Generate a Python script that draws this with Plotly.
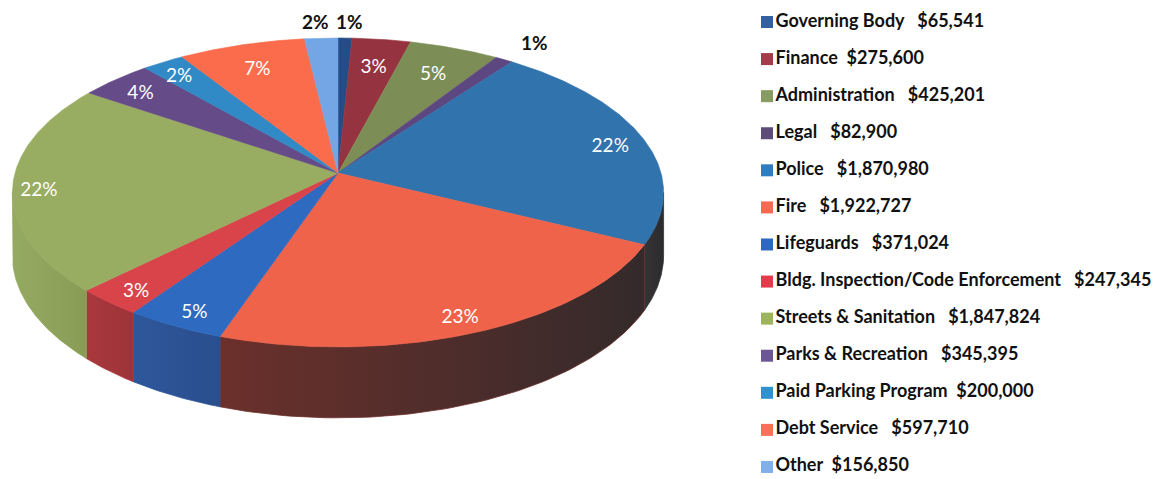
import numpy as np
import plotly.graph_objects as go

# General fund appropriations by department
departments = [
    "Governing Body", "Finance", "Administration", "Legal", "Police", "Fire",
    "Lifeguards", "Bldg. Inspection/Code Enforcement", "Streets & Sanitation",
    "Parks & Recreation", "Paid Parking Program", "Debt Service", "Other",
]
amounts = [65541, 275600, 425201, 82900, 1870980, 1922727, 371024,
           247345, 1847824, 345395, 200000, 597710, 156850]
# spacing between the department name and the amount in the legend
legend_gap = [3, 2, 3, 3, 3, 3, 3, 3, 3, 3, 2, 3, 2]

top_colors = ["#244c86", "#953440", "#7c8e55", "#5d4781", "#3073ad", "#ef634a",
              "#2e6bc0", "#d9434a", "#98ad62", "#654c88", "#318ac5", "#fa6c4c",
              "#74a6e6"]
legend_colors = ["#3360a0", "#a23c4b", "#889b62", "#5b4c78", "#2f7cbe", "#f26a52",
                 "#2e68c0", "#e03c4b", "#9db35f", "#6b5893", "#3290cc", "#f7705a",
                 "#7fb0ea"]
# side wall shading: (left colour, right colour) for each wedge
side_colors = {
    4: ("#353336", "#2b2a2c"),
    5: ("#6c302b", "#342a2b"),
    6: ("#2e579b", "#2a4e8d"),
    7: ("#a9383d", "#9d3338"),
    8: ("#95aa61", "#889c56"),
}

# projection of the tilted disc
CX, CY = 338.0, 173.0
RX, RY = 323.0, 152.0
Q = 0.126
DEPTH = 62.0


def project(r, ang, drop=0.0):
    u = r * np.sin(ang)
    v = r * np.cos(ang)
    d = 1.0 + Q * v
    return CX + RX * u / d, CY + (-RY * v + drop) / d


vals = np.array(amounts, dtype=float)
share = vals / vals.sum()
ends = np.cumsum(share) * 2 * np.pi
starts = ends - share * 2 * np.pi

# whole-percent labels that add up to 100 (largest remainder)
raw = share * 100
pct = np.floor(raw).astype(int)
left_over = 100 - pct.sum()
for k in np.argsort(-(raw - pct))[:left_over]:
    pct[k] += 1

fig = go.Figure()

# front wall of the disc
a_lo = np.arccos(-Q)
a_hi = 2 * np.pi - a_lo
for i in range(len(amounts)):
    lo, hi = max(starts[i], a_lo), min(ends[i], a_hi)
    if lo >= hi:
        continue
    t = np.linspace(lo, hi, 80)
    xt, yt = project(1.0, t)
    xb, yb = project(1.0, t[::-1], DEPTH)
    xs = np.concatenate([xt, xb, xt[:1]])
    ys = np.concatenate([yt, yb, yt[:1]])
    c_left, c_right = side_colors[i]
    fig.add_trace(go.Scatter(
        x=xs, y=ys, mode="lines", fill="toself",
        line=dict(color=c_left, width=0.8),
        fillgradient=dict(type="horizontal",
                          colorscale=[[0, c_left], [1, c_right]]),
        hoverinfo="skip", showlegend=False,
    ))

# top face wedges
for i in range(len(amounts)):
    n = max(8, int(share[i] * 720))
    t = np.linspace(starts[i], ends[i], n)
    xa, ya = project(1.0, t)
    xs = np.concatenate([[CX], xa, [CX]])
    ys = np.concatenate([[CY], ya, [CY]])
    fig.add_trace(go.Scatter(
        x=xs, y=ys, mode="lines", fill="toself", fillcolor=top_colors[i],
        line=dict(color=top_colors[i], width=0.6),
        hoverinfo="skip", showlegend=False,
    ))

# percentage labels: inside the larger wedges, outside the thin ones
label_r = np.array([1.15, 0.80, 0.80, 1.18, 0.89, 0.89, 0.89, 0.89, 0.92,
                    0.88, 0.90, 0.82, 1.15])
inside = share >= 0.02
mid = (starts + ends) / 2
lx, ly = project(label_r, mid, np.where(inside, 5.0, 1.0))
fig.add_trace(go.Scatter(
    x=lx[inside], y=ly[inside], mode="text",
    text=[f"{p}%" for p in pct[inside]],
    textfont=dict(family="Lato", size=19, color="white"),
    hoverinfo="skip", showlegend=False,
))
for i in np.where(~inside)[0]:
    fig.add_annotation(
        x=lx[i], y=ly[i], text=f"{pct[i]}%", showarrow=False,
        xshift=4 * np.sign(np.sin(mid[i])),
        font=dict(family="Lato", size=19, color="#111111", weight=700),
    )

# legend column
rows = np.arange(len(amounts))
legend_text = [f"{name}{chr(160) * g}${amt:,}"
               for name, g, amt in zip(departments, legend_gap, amounts)]
fig.add_trace(go.Scatter(
    x=np.full(len(rows), 767.0), y=22.0 + 37.08 * rows,
    mode="markers+text",
    marker=dict(symbol="square", size=12, color=legend_colors,
                line=dict(width=0)),
    text=legend_text, textposition="middle right",
    textfont=dict(family="Lato", size=18, color="#111111", weight=700),
    hoverinfo="skip", showlegend=False,
))

fig.update_layout(
    width=1171, height=479,
    margin=dict(l=0, r=0, t=0, b=0),
    paper_bgcolor="white", plot_bgcolor="white",
    showlegend=False,
    xaxis=dict(range=[0, 1171], visible=False, fixedrange=True),
    yaxis=dict(range=[479, 0], visible=False, fixedrange=True),
)

fig.write_html("out.html")
